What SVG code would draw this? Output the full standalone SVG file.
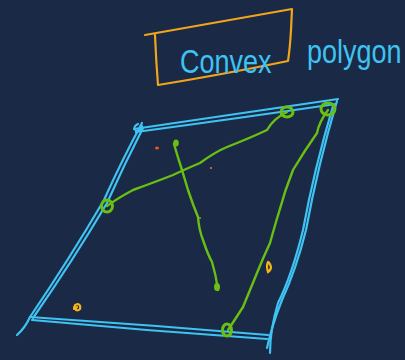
<svg xmlns="http://www.w3.org/2000/svg" width="405" height="360" viewBox="0 0 405 360">
<style>
.bg{fill:#1a2946}
.cy{fill:none;stroke:#3ec3f2;stroke-width:2.2;stroke-linecap:round;stroke-linejoin:round}
.gr{fill:none;stroke:#69c012;stroke-width:2.4;stroke-linecap:round;stroke-linejoin:round}
.gd{fill:none;stroke:#69c012;stroke-width:3}
.or{fill:none;stroke:#f2a51a;stroke-width:2.2;stroke-linecap:round;stroke-linejoin:round}
.ye{fill:none;stroke:#f5b514;stroke-width:2.2;stroke-linecap:round}
.hw{font-family:"Liberation Sans",sans-serif;fill:#3ec3f2;font-size:27px}
</style>
<rect class="bg" x="0" y="0" width="405" height="360"/>
<g id="title">
<path class="or" d="M145,35 Q220,22 292,9 L291,30 Q290,48 288,61 Q220,75 158,85 Q156,60 155,35"/>
<text class="hw" transform="translate(180,73) scale(1,1.2)">Convex</text>
<text class="hw" transform="translate(307,63) scale(1,1.2)">polygon</text>
</g>
<g id="polygon">
<path class="cy" d="M134,129 Q240,113 338,99"/>
<path class="cy" d="M136,132 Q240,118 336,104"/>
<path class="cy" d="M142,123 Q122,160 104,200 Q70,258 30,317 Q25,328 17,335"/>
<path class="cy" d="M143,128 Q124,165 107,203 Q72,262 33,318"/>
<path class="cy" d="M30,317 Q150,325 268,335"/>
<path class="cy" d="M32,320 Q150,331 267,339"/>
<path class="cy" d="M337,101 Q318,165 306,230 Q296,270 282,300 Q272,325 267,348"/>
<path class="cy" d="M333,106 Q314,170 303,230 Q292,275 278,303 Q270,330 270,353"/>
<path class="cy" d="M138,124 q-6,3 -2,7 q5,0 6,-5"/>
</g>
<g id="connectors">
<path class="gr" d="M107,206 Q118,198 133,190 Q155,182 173,175 Q188,168 200,163 Q215,152 227,147 Q250,138 267,130 Q274,118 287,112"/>
<path class="gr" d="M174,144 Q178,158 182,170 Q185,180 188,190 Q193,205 198,217 Q199,230 203,240 Q208,255 212,262 Q216,275 218,290"/>
<path class="gr" d="M228,330 Q236,318 243,307 Q250,290 257,273 Q263,258 270,243 Q275,225 279,212 Q285,190 293,170 Q305,150 317,133 Q319,122 328,110"/>
</g>
<g id="points">
<ellipse class="gd" cx="107" cy="206" rx="5.5" ry="6"/>
<ellipse class="gd" cx="287" cy="112" rx="6" ry="5"/>
<ellipse class="gd" cx="328" cy="109" rx="7" ry="6"/>
<ellipse class="gd" cx="227" cy="330" rx="4.5" ry="6"/>
<ellipse cx="176" cy="143" rx="2.8" ry="3.5" fill="#69c012"/>
<ellipse cx="217" cy="287" rx="3" ry="4" fill="#69c012"/>
</g>
<g id="marks">
<ellipse cx="157" cy="148" rx="2" ry="1.5" fill="#e8561c"/>
<circle cx="211" cy="168" r="1" fill="#d88a2a"/>
<circle cx="200" cy="218" r="0.9" fill="#d88a2a"/>
<path class="ye" d="M74,309 q0,-5 4,-5 q3,1 2,5 q-2,2 -4,1 q-1,-2 1,-3"/>
<path class="ye" d="M268,262 q-2,4 0,10 q3,-2 3,-5 q-1,-4 -3,-5"/>
</g>
</svg>
